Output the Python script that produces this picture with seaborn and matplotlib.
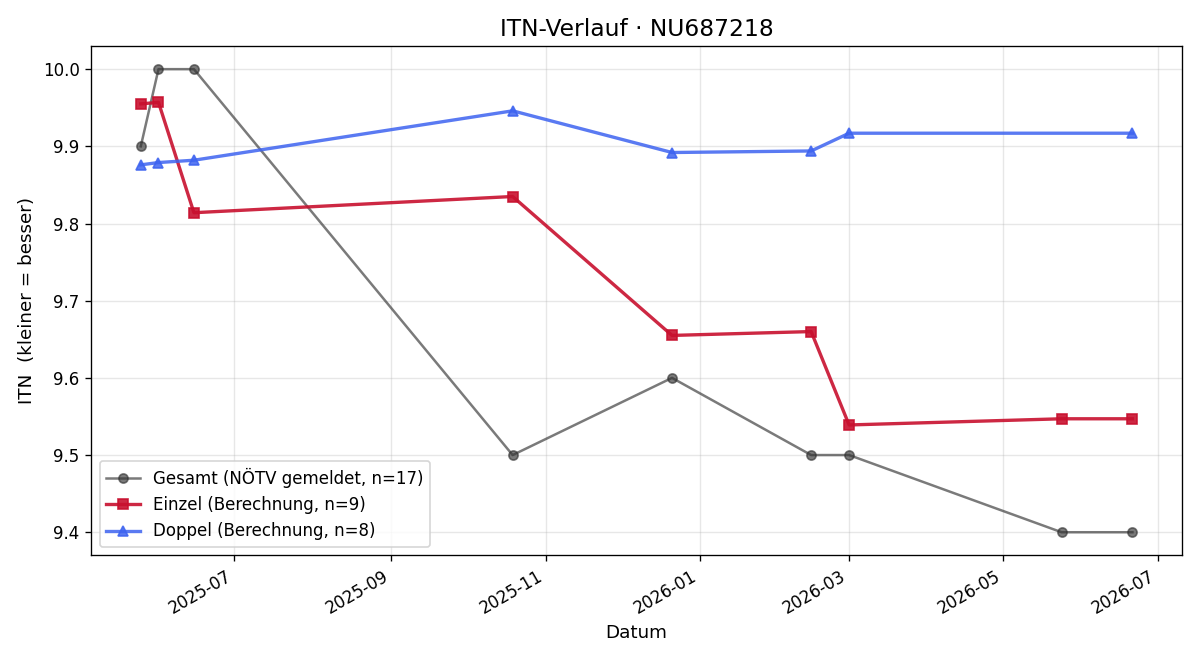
import pandas as pd
import matplotlib
matplotlib.use('Agg')
import matplotlib.pyplot as plt
import matplotlib.dates as mdates
import seaborn as sns

# Data
gesamt_dates = ['2025-05-25', '2025-06-01', '2025-06-15', '2025-10-19', '2025-12-21',
                '2026-02-14', '2026-03-01', '2026-05-24', '2026-06-21']
gesamt_itn = [9.9, 10.0, 10.0, 9.5, 9.6, 9.5, 9.5, 9.4, 9.4]

einzel_dates = ['2025-05-25', '2025-06-01', '2025-06-15', '2025-10-19', '2025-12-21',
                '2026-02-14', '2026-03-01', '2026-05-24', '2026-06-21']
einzel_itn = [9.955, 9.957, 9.814, 9.835, 9.655, 9.660, 9.539, 9.547, 9.547]

doppel_dates = ['2025-05-25', '2025-06-01', '2025-06-15', '2025-10-19', '2025-12-21',
                '2026-02-14', '2026-03-01', '2026-06-21']
doppel_itn = [9.876, 9.879, 9.882, 9.946, 9.892, 9.894, 9.917, 9.917]

df_g = pd.DataFrame({'Datum': pd.to_datetime(gesamt_dates), 'ITN': gesamt_itn})
df_e = pd.DataFrame({'Datum': pd.to_datetime(einzel_dates), 'ITN': einzel_itn})
df_d = pd.DataFrame({'Datum': pd.to_datetime(doppel_dates), 'ITN': doppel_itn})

fig, ax = plt.subplots(figsize=(10, 5.5), dpi=120)

sns.lineplot(data=df_g, x='Datum', y='ITN', ax=ax, color='#333333', alpha=0.65,
             linewidth=1.5, marker='o', markersize=5.5,
             markeredgecolor='#333333', markeredgewidth=1,
             label='Gesamt (NÖTV gemeldet, n=17)')
sns.lineplot(data=df_e, x='Datum', y='ITN', ax=ax, color='#C8102E', alpha=0.9,
             linewidth=2, marker='s', markersize=6,
             markeredgecolor='#C8102E', markeredgewidth=1,
             label='Einzel (Berechnung, n=9)')
sns.lineplot(data=df_d, x='Datum', y='ITN', ax=ax, color='#3D63F0', alpha=0.85,
             linewidth=2, marker='^', markersize=6,
             markeredgecolor='#3D63F0', markeredgewidth=1,
             label='Doppel (Berechnung, n=8)')

ax.set_title('ITN-Verlauf · NU687218', fontsize=14)
ax.set_xlabel('Datum', fontsize=11)
ax.set_ylabel('ITN  (kleiner = besser)', fontsize=11)
ax.grid(True, alpha=0.3)
ax.xaxis.set_major_locator(mdates.MonthLocator(bymonth=[1, 3, 5, 7, 9, 11]))
ax.xaxis.set_major_formatter(mdates.DateFormatter('%Y-%m'))
ax.legend(loc='lower left')
fig.autofmt_xdate()

plt.tight_layout()
plt.savefig('out.png', dpi=120)
plt.close()
